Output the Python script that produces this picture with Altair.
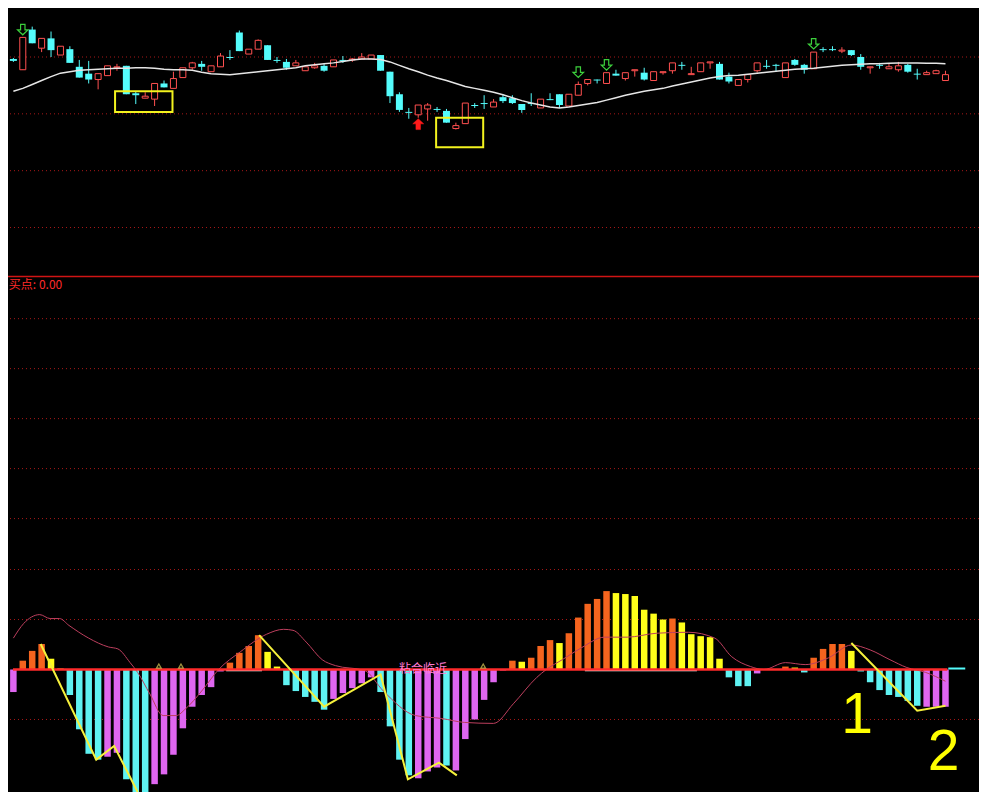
import altair as alt
import pandas as pd

# ---------------- data ----------------
candle_index = list(range(100))
open_price = [
    14.8, 13.7, 17.8, 15.9, 16.9, 15.2, 15.8, 14.0, 13.3, 12.7,
    13.1, 13.9, 14.1, 11.3, 10.8, 10.7, 12.3, 11.8, 12.9, 13.9,
    14.3, 13.5, 14.0, 15.0, 17.5, 15.3, 15.8, 16.2, 14.7, 14.5,
    14.1, 13.6, 13.9, 14.1, 14.0, 14.7, 14.7, 14.8, 14.8, 15.2,
    13.5, 11.2, 9.4, 9.1, 9.7, 9.7, 9.5, 7.7, 8.2, 10.1,
    10.3, 9.9, 10.9, 10.8, 10.2, 10.3, 9.8, 10.7, 11.2, 10.0,
    11.1, 12.3, 12.7, 12.3, 13.3, 12.8, 13.6, 13.4, 12.6, 13.4,
    13.6, 14.2, 13.2, 13.5, 14.4, 14.3, 13.0, 12.1, 12.7, 13.6,
    14.1, 14.2, 12.9, 14.7, 14.2, 13.8, 15.8, 15.8, 15.6, 15.7,
    15.0, 13.9, 14.2, 13.8, 13.7, 14.2, 13.3, 13.2, 13.3, 12.6,
]
close_price = [
    14.6, 17.0, 16.4, 16.9, 15.7, 16.1, 14.4, 12.9, 12.7, 13.3,
    14.1, 14.0, 11.2, 11.1, 11.0, 12.3, 11.9, 12.8, 13.9, 14.4,
    14.0, 14.1, 15.1, 14.9, 15.6, 15.8, 16.7, 14.7, 14.6, 13.9,
    14.4, 14.0, 14.1, 13.6, 14.7, 14.6, 14.8, 15.0, 15.2, 13.6,
    11.0, 9.6, 9.3, 10.1, 10.1, 9.6, 8.3, 8.0, 10.3, 10.0,
    10.2, 10.4, 10.5, 10.3, 9.6, 10.2, 10.7, 10.6, 10.1, 11.2,
    12.2, 12.7, 12.6, 13.4, 13.1, 13.4, 13.7, 12.7, 13.5, 13.5,
    14.4, 14.1, 13.3, 14.4, 14.5, 12.7, 12.5, 12.7, 13.2, 14.4,
    14.0, 14.1, 14.4, 14.2, 13.7, 15.5, 15.7, 15.7, 15.7, 15.2,
    14.0, 14.0, 14.1, 14.0, 14.1, 13.5, 13.2, 13.4, 13.6, 13.2,
]
high_price = [
    14.9, 17.0, 18.1, 16.9, 17.6, 16.1, 16.1, 14.7, 14.6, 13.3,
    14.1, 14.3, 14.1, 11.5, 11.4, 12.3, 12.6, 13.5, 13.9, 14.5,
    14.6, 14.1, 15.4, 15.7, 17.7, 15.8, 16.8, 16.2, 15.0, 14.8,
    14.7, 14.0, 14.4, 14.3, 14.7, 15.1, 14.9, 15.4, 15.2, 15.2,
    13.5, 11.4, 9.8, 10.1, 10.3, 9.9, 9.7, 8.3, 10.3, 10.3,
    11.1, 10.7, 11.2, 11.1, 10.2, 11.3, 10.7, 11.3, 11.2, 11.2,
    12.5, 12.7, 12.7, 13.4, 13.7, 13.4, 13.7, 13.9, 13.5, 13.5,
    14.4, 14.5, 14.0, 14.4, 14.5, 14.5, 13.4, 12.7, 13.2, 14.4,
    14.7, 14.3, 14.4, 14.8, 14.3, 15.5, 16.0, 16.1, 16.0, 15.7,
    15.3, 14.0, 14.4, 14.3, 14.5, 14.3, 13.8, 13.6, 13.7, 13.6,
]
low_price = [
    14.5, 13.7, 16.4, 15.5, 15.0, 15.2, 14.4, 12.9, 12.3, 11.7,
    13.1, 13.6, 11.2, 10.2, 10.8, 10.0, 11.9, 11.8, 12.9, 13.7,
    13.6, 13.5, 14.0, 14.7, 15.6, 15.3, 15.8, 14.7, 14.4, 13.7,
    14.1, 13.6, 13.8, 13.5, 14.0, 14.4, 14.5, 14.8, 14.8, 13.6,
    10.3, 9.4, 8.7, 8.8, 8.5, 9.4, 8.3, 7.6, 8.2, 9.8,
    9.7, 9.9, 10.3, 10.2, 9.3, 10.0, 9.8, 10.6, 9.8, 10.0,
    11.1, 12.1, 12.3, 12.3, 13.1, 12.6, 13.0, 12.6, 12.6, 13.2,
    13.3, 13.7, 13.2, 13.5, 13.8, 12.7, 12.3, 12.1, 12.4, 13.4,
    13.8, 13.5, 12.9, 14.1, 13.3, 13.8, 15.5, 15.6, 15.4, 15.1,
    13.7, 13.3, 13.8, 13.8, 13.5, 13.4, 12.7, 13.2, 13.3, 12.6,
]
ma_price = [
    11.5, 11.8, 12.2, 12.6, 13.0, 13.35, 13.5, 13.65, 13.7, 13.75,
    13.8, 13.85, 13.85, 13.9, 13.9, 13.85, 13.75, 13.7, 13.7, 13.65,
    13.45, 13.3, 13.25, 13.2, 13.3, 13.4, 13.5, 13.6, 13.7, 13.8,
    13.9, 14.1, 14.2, 14.3, 14.4, 14.55, 14.7, 14.8, 14.8, 14.75,
    14.5, 14.15, 13.8, 13.5, 13.15, 12.85, 12.6, 12.3, 12.0, 11.8,
    11.6, 11.4, 11.15, 10.85, 10.55, 10.3, 10.1, 9.9, 9.8, 9.9,
    10.05, 10.2, 10.35, 10.6, 10.85, 11.1, 11.3, 11.5, 11.65, 11.8,
    12.05, 12.25, 12.45, 12.65, 12.85, 13.0, 13.1, 13.15, 13.25, 13.35,
    13.45, 13.55, 13.65, 13.75, 13.8, 13.85, 13.95, 14.05, 14.15, 14.2,
    14.25, 14.3, 14.3, 14.35, 14.4, 14.4, 14.4, 14.35, 14.35, 14.3,
]

hist_value = [
    -0.23, 0.09, 0.19, 0.26, 0.11, 0.01, -0.26, -0.61, -0.86, -0.92,
    -0.89, -0.85, -1.12, -1.35, -1.40, -1.17, -1.07, -0.87, -0.60, -0.38,
    -0.26, -0.18, -0.02, 0.07, 0.17, 0.24, 0.35, 0.18, 0.03, -0.16,
    -0.22, -0.28, -0.33, -0.41, -0.30, -0.24, -0.19, -0.14, -0.08, -0.23,
    -0.58, -0.92, -1.08, -1.11, -1.04, -1.00, -0.98, -1.03, -0.71, -0.51,
    -0.31, -0.13, -0.01, 0.09, 0.08, 0.12, 0.24, 0.30, 0.27, 0.37,
    0.53, 0.67, 0.72, 0.80, 0.78, 0.77, 0.75, 0.61, 0.57, 0.51,
    0.52, 0.48, 0.36, 0.34, 0.33, 0.11, -0.08, -0.17, -0.17, -0.04,
    0.00, 0.00, 0.03, 0.02, -0.03, 0.12, 0.21, 0.26, 0.26, 0.19,
    -0.02, -0.13, -0.21, -0.26, -0.28, -0.32, -0.37, -0.38, -0.38, -0.38,
]
hist_kind = list(
    "MOOOYYCCCC" "MMCCCMMMMM" "MMMOOOOYYC" "CCCCMMMMMC" "CCCMMMCMMM"
    "MMMOYOOOYO" "OOOOYYYYYY" "OYYYYYCCCM" "MMOYCOOOOY" "CCCCCCCMMM"
)

signal_index = [0, 1.1, 2.8, 3.9, 4.9, 5.9, 8.0, 10.1, 11.1, 12.4, 13.2, 14.5, 15.9,
                17.3, 18.3, 20.0, 21.8, 24.1, 26.9, 28.7, 29.7, 31.1, 32.8, 34.2,
                37.3, 39.3, 42.7, 45.5, 47.9, 51.0, 53.1, 55.6, 56.6, 58.3, 60.3,
                62.8, 65.2, 68.3, 71.7, 74.5, 76.3, 78.3, 79.7, 82.0, 84.1, 86.6,
                89.0, 91.0, 93.1, 94.9, 96.9, 99.0]
signal_value = [0.32, 0.47, 0.56, 0.52, 0.52, 0.45, 0.32, 0.23, 0.21, 0.07, -0.03, -0.25, -0.47,
                -0.47, -0.40, -0.22, 0.0, 0.18, 0.36, 0.41, 0.40, 0.28, 0.10, 0.04,
                -0.01, -0.22, -0.47, -0.50, -0.54, -0.55, -0.35, -0.08, 0.0, 0.10, 0.22,
                0.33, 0.33, 0.37, 0.38, 0.32, 0.13, 0.03, 0.0, 0.07, 0.05, 0.12,
                0.25, 0.20, 0.10, 0.02, -0.03, -0.12]

trend_group = ["A"] * 4 + ["B"] * 6 + ["C"] * 3
trend_index = [2.9, 8.8, 10.7, 13.2, 26.1, 33.0, 39.0, 41.9, 45.2, 47.1, 89.0, 96.0, 99.0]
trend_value = [0.26, -0.92, -0.78, -1.25, 0.35, -0.38, -0.05, -1.12, -0.95, -1.08, 0.27, -0.42, -0.37]

grid_price = [15.0, 9.2, 3.4, -2.4]
grid_macd = [3.58, 3.07, 2.56, 2.05, 1.54, 1.02, 0.51, -0.51]

box_from = [10.8, 44.9]
box_to = [16.9, 49.9]
box_top = [11.5, 8.8]
box_bottom = [9.4, 5.8]

sell_index = [1, 60, 63, 85]
sell_price = [17.8, 13.45, 14.2, 16.35]
buy_index = [43]
buy_price = [8.15]

white_from = [22.6, 60.7]
white_to = [26.4, 72.6]
marker_index = [15.45, 17.8, 49.9]

# ---------------- styling ----------------
RED = "#ff5050"
CYAN = "#54fcfc"
BG = "#000000"
HIST_COLORS = {"O": "#f5641e", "Y": "#ffff1a", "C": "#5ff2f2", "M": "#df66f0"}
X_DOM = [-0.04, 102.03]
P_DOM = [-60, 20]        # price panel (top)
M_DOM = [-1.25, 6.75]    # MACD panel (bottom)

xs = alt.Scale(domain=X_DOM, nice=False, zero=False)
ps = alt.Scale(domain=P_DOM, nice=False, zero=False)
ms = alt.Scale(domain=M_DOM, nice=False, zero=False)


def X(f):
    return alt.X(f, type="quantitative", scale=xs, axis=None)


def YP(f):
    return alt.Y(f, type="quantitative", scale=ps, axis=None)


def YM(f):
    return alt.Y(f, type="quantitative", scale=ms, axis=None)


candles = pd.DataFrame({"i": candle_index, "open": open_price, "close": close_price,
                        "high": high_price, "low": low_price, "ma": ma_price})
candles["dir"] = ["up" if c >= o else "down" for o, c in zip(open_price, close_price)]
candles["col"] = [RED if d == "up" else CYAN for d in candles["dir"]]
hist = pd.DataFrame({"i": candle_index, "v": hist_value, "z": 0.0,
                     "col": [HIST_COLORS[k] for k in hist_kind]})
signal = pd.DataFrame({"i": signal_index, "v": signal_value})
trend = pd.DataFrame({"g": trend_group, "i": trend_index, "v": trend_value})
gp = pd.DataFrame({"p": grid_price})
gm = pd.DataFrame({"v": grid_macd})
boxes = pd.DataFrame({"a": box_from, "b": box_to, "t": box_top, "u": box_bottom})
sells = pd.DataFrame({"i": sell_index, "p": sell_price})
buys = pd.DataFrame({"i": buy_index, "p": buy_price})
whites = pd.DataFrame({"a": white_from, "b": white_to, "v": [-0.01, -0.01]})
markers = pd.DataFrame({"i": marker_index, "v": [0.035] * 3})

dot = dict(color="#a81818", strokeDash=[1, 3], strokeWidth=1)

# ---- top panel ----
top_grid = alt.Chart(gp).mark_rule(**dot).encode(y=YP("p"))
wick = alt.Chart(candles).mark_rule(strokeWidth=1).encode(
    x=X("i"), y=YP("low"), y2="high", color=alt.Color("col:N", scale=None))
body_up = alt.Chart(candles).transform_filter("datum.dir == 'up'").mark_bar(
    size=6, fill=BG, stroke=RED, strokeWidth=1
).encode(x=X("i"), y=YP("open"), y2="close")
body_dn = alt.Chart(candles).transform_filter("datum.dir == 'down'").mark_bar(
    size=7, color=CYAN
).encode(x=X("i"), y=YP("open"), y2="close")
ma = alt.Chart(candles).mark_line(color="#e6e6e6", strokeWidth=1.5).encode(x=X("i"), y=YP("ma"))
box = alt.Chart(boxes).mark_rect(fillOpacity=0, stroke="#f2f21e", strokeWidth=2).encode(
    x=X("a"), x2="b", y=YP("t"), y2="u")
down_arrow = "M -0.42 -1 L 0.42 -1 L 0.42 0.05 L 1 0.05 L 0 1 L -1 0.05 L -0.42 0.05 Z"
up_arrow = "M -0.42 1 L 0.42 1 L 0.42 -0.05 L 1 -0.05 L 0 -1 L -1 -0.05 L -0.42 -0.05 Z"
sell = alt.Chart(sells).mark_point(shape=down_arrow, size=110, filled=True, fill=BG,
                                   stroke="#3ccf3c", strokeWidth=1.2, opacity=1).encode(
    x=X("i"), y=YP("p"))
buy = alt.Chart(buys).mark_point(shape=up_arrow, size=120, filled=True, fill="#ff1a1a",
                                 stroke="#ff1a1a", strokeWidth=0.5, opacity=1).encode(
    x=X("i"), y=YP("p"))

# ---- bottom panel ----
bot_grid = alt.Chart(gm).mark_rule(**dot).encode(y=YM("v"))
sep = alt.Chart(pd.DataFrame({"v": [4.01]})).mark_rule(color="#d01414", strokeWidth=1.3).encode(y=YM("v"))
bars = alt.Chart(hist).mark_bar(size=6.5, clip=True).encode(
    x=X("i"), y=YM("v"), y2="z", color=alt.Color("col:N", scale=None))
sig = alt.Chart(signal).mark_line(color="#bd3f5e", strokeWidth=1, interpolate="monotone").encode(
    x=X("i"), y=YM("v"))
zero = alt.Chart(pd.DataFrame({"a": [-0.04], "b": [99.2], "v": [0.0]})).mark_rule(
    color="#ff2a2a", strokeWidth=2.5).encode(x=X("a"), x2="b", y=YM("v"))
white = alt.Chart(whites).mark_rule(color="#ffffff", strokeWidth=1.5).encode(
    x=X("a"), x2="b", y=YM("v"))
tail = alt.Chart(pd.DataFrame({"a": [99.3], "b": [101.1], "v": [0.01]})).mark_rule(
    color=CYAN, strokeWidth=2).encode(x=X("a"), x2="b", y=YM("v"))
trend_lines = alt.Chart(trend).mark_line(color="#f5f03c", strokeWidth=2, clip=True).encode(
    x=X("i"), y=YM("v"), detail="g:N")
mark = alt.Chart(markers).mark_point(shape="triangle-up", size=22, filled=False,
                                     color="#e0cf5a", strokeWidth=1.3).encode(x=X("i"), y=YM("v"))

buy_label = alt.Chart(pd.DataFrame({"i": [-0.48], "v": [3.88], "t": ["买点: 0.00"]})).mark_text(
    align="left", baseline="alphabetic", fontSize=12, font="Noto Sans CJK SC", color="#ff2a2a"
).encode(x=X("i"), y=YM("v"), text="t:N")
near_label = alt.Chart(pd.DataFrame({"i": [43.5], "v": [-0.04], "t": ["粘合临近"]})).mark_text(
    align="center", baseline="alphabetic", fontSize=12, font="Noto Sans CJK SC", color="#ff7ad0"
).encode(x=X("i"), y=YM("v"), text="t:N")
num_label = alt.Chart(pd.DataFrame({"i": [89.6, 98.8], "v": [-0.65, -1.03], "t": ["1", "2"]})).mark_text(
    align="center", baseline="alphabetic", fontSize=57, font="Liberation Sans", color="#ffff00"
).encode(x=X("i"), y=YM("v"), text="t:N")

chart = alt.layer(
    top_grid, wick, body_up, body_dn, ma, box, sell, buy,
    bot_grid, sep, bars, sig, white, zero, tail, trend_lines, mark,
    buy_label, near_label, num_label,
).resolve_scale(y="independent").properties(
    width=971, height=784, padding=0,
    autosize=alt.AutoSizeParams(type="none"),
    background=BG,
).configure_view(stroke=None, fill=BG)

chart.save("out.html", embed_options={"renderer": "svg", "actions": False})
